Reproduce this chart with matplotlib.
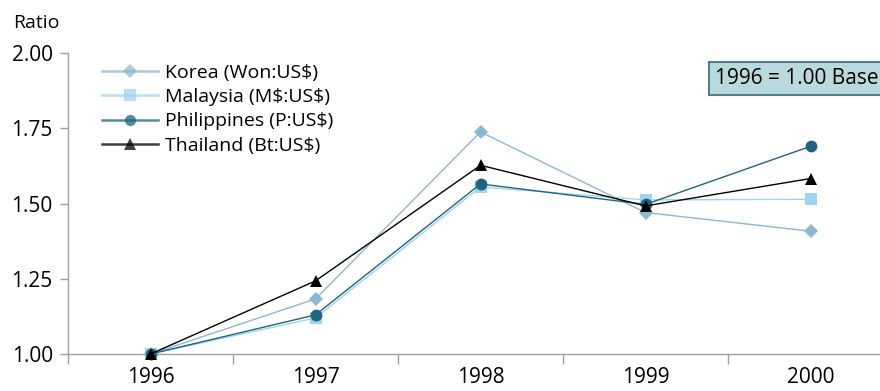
import matplotlib
matplotlib.use("Agg")
import matplotlib.pyplot as plt
from matplotlib.lines import Line2D

years = ["1996", "1997", "1998", "1999", "2000"]
korea = [1.00, 1.183, 1.738, 1.470, 1.408]
malaysia = [1.00, 1.120, 1.555, 1.512, 1.514]
philippines = [1.00, 1.130, 1.565, 1.497, 1.690]
thailand = [1.00, 1.243, 1.627, 1.492, 1.583]
yticks = [1.00, 1.25, 1.50, 1.75, 2.00]

plt.rcParams['font.family'] = ['Open Sans', 'DejaVu Sans']

fig = plt.figure(figsize=(8.8, 3.91), dpi=100)
ax = fig.add_axes([0.0773, 0.0946, 0.9375, 0.7698])

x = list(range(len(years)))
series = [
    (r"Korea (Won:US\$)", korea, "#8bb8d6", "D", 7.5),
    (r"Malaysia (M\$:US\$)", malaysia, "#9fd3f2", "s", 8.5),
    (r"Philippines (P:US\$)", philippines, "#1d6580", "o", 8.5),
    (r"Thailand (Bt:US\$)", thailand, "#000000", "^", 8.5),
]
handles = []
for label, vals, color, marker, ms in series:
    ax.plot(x, vals, color=color, lw=1.0, marker=marker, markersize=ms,
            markeredgewidth=0, clip_on=False, zorder=3)
    handles.append(Line2D([], [], color=color, lw=1.8, alpha=0.75,
                          marker=marker, markersize=ms * 0.95,
                          markerfacecolor=color, markeredgewidth=0,
                          label=label))

ax.set_xlim(-0.5, 4.5)
ax.set_ylim(1.0, 2.0)
ax.set_yticks(yticks)
ax.set_yticklabels([f"{v:.2f}" for v in yticks])
ax.set_xticks(x)
ax.set_xticklabels(years)
ax.set_xticks([i - 0.5 for i in range(len(years) + 1)], minor=True)
ax.tick_params(axis='x', which='major', length=0, pad=9, labelsize=15)
ax.tick_params(axis='x', which='minor', length=7, color="#a0a0a0", width=1)
ax.tick_params(axis='y', length=6, color="#a0a0a0", width=1, labelsize=15, pad=5)

for s in ("top", "right"):
    ax.spines[s].set_visible(False)
for s in ("left", "bottom"):
    ax.spines[s].set_color("#a0a0a0")
    ax.spines[s].set_linewidth(1)

fig.text(0.015, 0.94, "Ratio", fontsize=14, ha="left", va="center")

ax.legend(handles=handles, loc="upper left", bbox_to_anchor=(0.025, 1.01),
          frameon=False, fontsize=14, handlelength=2.85, handletextpad=0.4,
          labelspacing=0.33, borderaxespad=0.3)

fig.text(0.813, 0.799, "1996 = 1.00 Base", fontsize=15, ha="left", va="center",
         bbox=dict(boxstyle="square,pad=0.3", facecolor="#b9d9dd",
                   edgecolor="#4b808c", linewidth=1.5))

fig.savefig("out.png", dpi=100)
